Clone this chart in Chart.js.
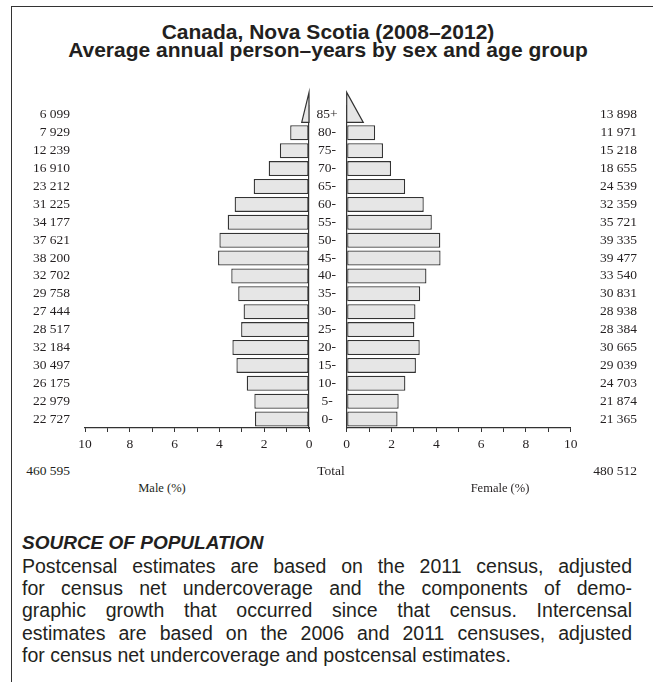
<!DOCTYPE html>
<html>
<head>
<meta charset="utf-8">
<script src="https://cdn.jsdelivr.net/npm/chart.js@4.4.1/dist/chart.umd.min.js"></script>
<style>
  body { margin: 0; background: #fff; }
  #page { position: relative; width: 653px; height: 682px; overflow: hidden; color: #231f20;
          font-family: "Liberation Sans", Arial, sans-serif; }
  .frameTop { position: absolute; left: 11px; top: 6px; right: 0; border-top: 1.5px solid #333; }
  .frameLeft { position: absolute; left: 11px; top: 6px; bottom: 0; border-left: 1.5px solid #333; }
  .title { position: absolute; left: 3px; right: 0; top: 23px; text-align: center;
           font-weight: bold; font-size: 21px; line-height: 17.6px; }
  .serif { position: absolute; font-family: "Liberation Serif", "Times New Roman", serif;
           font-size: 13.5px; line-height: 14px; white-space: nowrap; }
  .chartBox { position: absolute; top: 0; height: 460px; }
  .src { position: absolute; left: 22px; width: 610px; font-size: 19.5px; line-height: 22.2px; }
  .src div { text-align: justify; text-align-last: justify; white-space: nowrap; }
  .src div.last { text-align-last: left; }
  .srcHead { position: absolute; left: 22px; top: 532px; font-size: 19px; line-height: 22px; font-weight: bold; font-style: italic; }
</style>
</head>
<body>
<div id="page">
  <div class="frameTop"></div>
  <div class="frameLeft"></div>
  <div class="title">Canada, Nova Scotia (2008–2012)<br>Average annual person–years by sex and age group</div>

  <div class="chartBox" style="left:0; width:330px;"><canvas id="chartMale"></canvas></div>
  <div class="chartBox" style="left:300px; width:353px;"><canvas id="chartFemale"></canvas></div>

  <div class="serif" id="totM" style="right:583px; top:464px;"></div>
  <div class="serif" style="left:331px; top:464px; transform:translateX(-50%);">Total</div>
  <div class="serif" id="totF" style="right:16px; top:464px;"></div>
  <div class="serif" style="left:162px; top:481px; transform:translateX(-50%); font-size:12.5px;">Male (%)</div>
  <div class="serif" style="left:500px; top:481px; transform:translateX(-50%); font-size:12.5px;">Female (%)</div>

  <div class="srcHead">SOURCE OF POPULATION</div>
  <div class="src" style="top:555px;">
    <div>Postcensal estimates are based on the 2011 census, adjusted</div>
    <div>for census net undercoverage and the components of demo-</div>
    <div>graphic growth that occurred since that census. Intercensal</div>
    <div>estimates are based on the 2006 and 2011 censuses, adjusted</div>
    <div class="last">for census net undercoverage and postcensal estimates.</div>
  </div>
</div>

<script>
// données (haut -> bas)
const ageGroups = ['85+','80-','75-','70-','65-','60-','55-','50-','45-','40-','35-','30-','25-','20-','15-','10-','5-','0-'];
const maleCounts   = [6099, 7929, 12239, 16910, 23212, 31225, 34177, 37621, 38200, 32702, 29758, 27444, 28517, 32184, 30497, 26175, 22979, 22727];
const femaleCounts = [13898, 11971, 15218, 18655, 24539, 32359, 35721, 39335, 39477, 33540, 30831, 28938, 28384, 30665, 29039, 24703, 21874, 21365];
// % de la population totale
const malePct   = [0.65, 0.84, 1.30, 1.80, 2.47, 3.32, 3.63, 4.00, 4.06, 3.47, 3.16, 2.92, 3.03, 3.42, 3.24, 2.78, 2.44, 2.41];
const femalePct = [1.48, 1.27, 1.62, 1.98, 2.61, 3.44, 3.80, 4.18, 4.19, 3.56, 3.28, 3.07, 3.02, 3.26, 3.09, 2.62, 2.32, 2.27];
const pctTicks = [0, 2, 4, 6, 8, 10];
const totalMale = 460595;
const totalFemale = 480512;

const INK = '#231f20';
const LINE = '#333333';
const FILL = '#e6e6e6';
const serif = '"Liberation Serif", "Times New Roman", serif';

const fmt = n => String(n).replace(/\B(?=(\d{3})+(?!\d))/g, ' ');
document.getElementById('totM').textContent = fmt(totalMale);
document.getElementById('totF').textContent = fmt(totalFemale);

// 85+ dessiné en triangle + étiquettes (effectifs, âges)
const pyramidPlugin = {
  id: 'pyramid',
  afterDatasetsDraw(chart, args, opts) {
    const { ctx, scales: { x, y } } = chart;
    const step = y.getPixelForValue(1) - y.getPixelForValue(0);
    const barH = step * 0.84;
    const x0 = x.getPixelForValue(0);
    const x1 = x.getPixelForValue(opts.pct[0] / 2);
    const base = y.getPixelForValue(0) + barH / 2;
    const tip = base - 2 * barH;
    ctx.save();
    ctx.beginPath();
    ctx.moveTo(x0, tip);
    ctx.lineTo(x0, base);
    ctx.lineTo(x1, base);
    ctx.closePath();
    ctx.fillStyle = FILL;
    ctx.fill();
    ctx.lineWidth = 1.2;
    ctx.strokeStyle = LINE;
    ctx.stroke();

    ctx.fillStyle = INK;
    ctx.font = '13.5px ' + serif;
    ctx.textBaseline = 'middle';
    ctx.textAlign = 'right';
    opts.counts.forEach((n, i) => ctx.fillText(fmt(n), opts.countX, y.getPixelForValue(i)));
    if (opts.ageX != null) {
      ctx.textAlign = 'center';
      ageGroups.forEach((a, i) => ctx.fillText(a, opts.ageX, y.getPixelForValue(i)));
    }
    ctx.restore();
  }
};

function makePyramid(id, pct, counts, side, padding, countX, ageX) {
  return new Chart(document.getElementById(id), {
    type: 'bar',
    data: {
      labels: ageGroups,
      datasets: [{
        data: pct,
        backgroundColor: c => c.dataIndex === 0 ? 'rgba(0,0,0,0)' : FILL,
        borderColor: LINE,
        borderWidth: c => c.dataIndex === 0 ? 0 : 1.3,
        borderSkipped: false,
        barPercentage: 0.84,
        categoryPercentage: 1
      }]
    },
    options: {
      indexAxis: 'y',
      responsive: true,
      maintainAspectRatio: false,
      animation: false,
      layout: { padding: padding },
      plugins: {
        legend: { display: false },
        tooltip: { enabled: false },
        pyramid: { pct: pct, counts: counts, countX: countX, ageX: ageX }
      },
      scales: {
        x: {
          min: 0, max: 10,
          reverse: side === 'left',
          grid: { drawOnChartArea: false, drawTicks: true, tickLength: 4, color: LINE },
          border: { color: LINE, width: 1.2 },
          ticks: {
            stepSize: 1, autoSkip: false, maxRotation: 0, padding: 4,
            color: INK, font: { family: serif, size: 13.5 },
            callback: v => pctTicks.includes(v) ? v : ''
          },
          afterFit: s => { s.height = 26; }
        },
        y: {
          position: side === 'left' ? 'right' : 'left',
          grid: { display: false },
          border: { color: LINE, width: 1.2 },
          ticks: { display: false },
          afterFit: s => { s.width = 0; }
        }
      }
    },
    plugins: [pyramidPlugin]
  });
}

makePyramid('chartMale', malePct, maleCounts, 'left',
  { left: 85, right: 21, top: 106, bottom: 6 }, 70, null);
makePyramid('chartFemale', femalePct, femaleCounts, 'right',
  { left: 46.7, right: 82.3, top: 106, bottom: 6 }, 337, 27);
</script>
</body>
</html>
